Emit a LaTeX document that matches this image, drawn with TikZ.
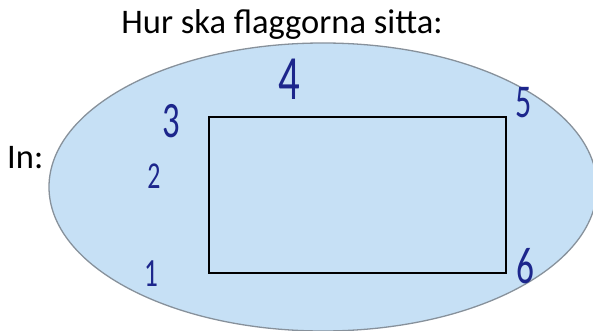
\documentclass[tikz,border=0pt]{standalone}
\usepackage{fontspec}
\setmainfont{Carlito}
\definecolor{ovalfill}{RGB}{198,224,245}
\definecolor{ovalline}{RGB}{135,145,155}
\definecolor{pen}{RGB}{28,38,140}
\newcommand{\handdigit}[1]{\scalebox{0.68}[1]{#1}}
\tikzset{
  digit/.style={text=pen,inner sep=0pt,font=\fontsize{#1}{#1}\selectfont},
  label/.style={inner sep=0pt,font=\fontsize{34.5}{40}\selectfont}
}
\begin{document}
\begin{tikzpicture}[x=1pt,y=-1pt]
            \useasboundingbox(0,0)rectangle(593,331);
            \clip(0,0)rectangle(593,331);
            \coordinate(O)at(323,187);
            \coordinate(A0)at(209,273);
            \coordinate(A1)at(506,273);
            \coordinate(A2)at(506,117);
            \coordinate(A3)at(209,117);
            \fill[ovalfill](O)ellipse[x radius=274,y radius=144];
            \draw[ovalline,line width=1.3pt](O)ellipse[x radius=274,y radius=144];
            \draw[line width=2pt](A0)--(A1)--(A2)--(A3)--cycle;
            \node[label,anchor=base](title)at(282,34){Hur ska flaggorna sitta:};
            \node[label,anchor=base west](in)at(7,168){In:};
            \node[digit=40](n1)at(151,274){\handdigit{1}};
            \node[digit=38](n2)at(154,176){\handdigit{2}};
            \node[digit=51](n3)at(171,121){\handdigit{3}};
            \node[digit=63](n4)at(289,79){\handdigit{4}};
            \node[digit=47](n5)at(524,103){\handdigit{5}};
            \node[digit=52](n6)at(525,266){\handdigit{6}};
        \end{tikzpicture}
\end{document}
